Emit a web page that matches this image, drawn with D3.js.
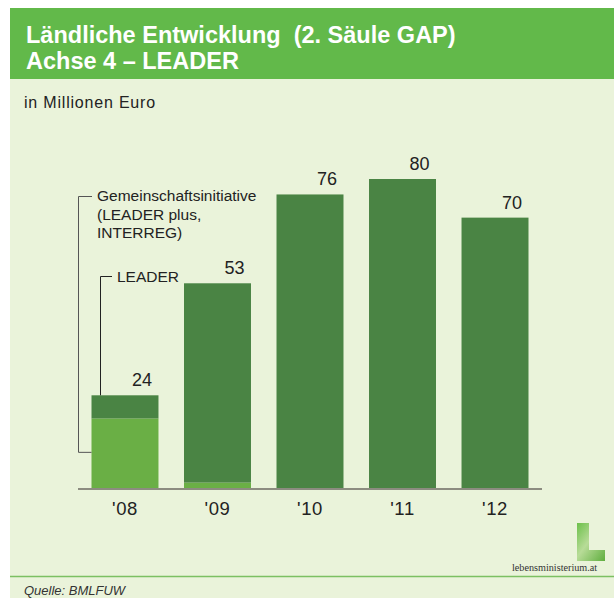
<!DOCTYPE html>
<html>
<head>
<meta charset="utf-8">
<script src="https://cdn.jsdelivr.net/npm/d3@7"></script>
<style>
  html, body { margin: 0; padding: 0; background: #ffffff; }
  svg { display: block; font-family: "Liberation Sans", Arial, sans-serif; }
  text { white-space: pre; }
</style>
</head>
<body>
<svg id="chart" width="614" height="598"></svg>
<script>
// Funding in million euro per year
const years = ["'08", "'09", "'10", "'11", "'12"];
const totals = [24, 53, 76, 80, 70];
// Community initiative (LEADER plus, INTERREG) share, bottom segment
const initiative = [18, 1.4, 0, 0, 0];
// LEADER share, top segment
const leader = [6, 51.6, 76, 80, 70];

const colors = {
  header: "#62b94a",
  panel: "#eaf3da",
  dark: "#4a8444",
  light: "#6aaf45",
  axis: "#8c8c80",
  text: "#222222",
  bracket: "#555555"
};

const svg = d3.select("#chart");

// Backgrounds
svg.append("rect").attr("x", 10).attr("y", 8).attr("width", 604).attr("height", 71).attr("fill", colors.header);
svg.append("rect").attr("x", 10).attr("y", 79).attr("width", 604).attr("height", 519).attr("fill", colors.panel);

// Title
const title = svg.append("text").attr("fill", "#ffffff").attr("font-weight", "bold").attr("font-size", 23.5);
title.append("tspan").attr("x", 26).attr("y", 43).text("Ländliche Entwicklung  (2. Säule GAP)");
title.append("tspan").attr("x", 26).attr("y", 69).text("Achse 4 – LEADER");

svg.append("text").attr("x", 24).attr("y", 108).attr("font-size", 16).attr("letter-spacing", 0.8)
  .attr("fill", colors.text).text("in Millionen Euro");

// Scales
const x = d3.scaleBand().domain(years).range([78, 542]).paddingInner(0.276).paddingOuter(0.146);
const y = d3.scaleLinear().domain([0, 80]).range([488, 179]);

const rows = years.map((yr, i) => ({ year: yr, initiative: initiative[i], leader: leader[i], total: totals[i] }));
const stack = d3.stack().keys(["initiative", "leader"])(rows);
const fills = { initiative: colors.light, leader: colors.dark };

svg.append("g").selectAll("g").data(stack).join("g")
  .attr("fill", d => fills[d.key])
  .selectAll("rect").data(d => d).join("rect")
  .attr("x", d => x(d.data.year))
  .attr("width", x.bandwidth())
  .attr("y", d => y(d[1]))
  .attr("height", d => y(d[0]) - y(d[1]));

// Value labels
svg.append("g").selectAll("text").data(rows).join("text")
  .attr("x", d => x(d.year) + x.bandwidth() / 2 + 17)
  .attr("y", d => y(d.total) - 9)
  .attr("text-anchor", "middle")
  .attr("font-size", 18)
  .attr("fill", colors.text)
  .text(d => d.total);

// Category axis along the baseline
const xAxis = d3.axisBottom(x).tickSize(0).tickPadding(10);
const ax = svg.append("g").attr("transform", "translate(0,488)").call(xAxis);
ax.select(".domain").remove();
ax.selectAll("text").attr("font-size", 18.5).attr("letter-spacing", 0.6).attr("fill", colors.text)
  .attr("font-family", "Liberation Sans, Arial, sans-serif").attr("dy", "0.9em");
svg.append("line").attr("x1", 78).attr("x2", 542).attr("y1", 489).attr("y2", 489)
  .attr("stroke", colors.axis).attr("stroke-width", 2);

// Legend brackets
const x08 = x(years[0]);
svg.append("path")
  .attr("d", `M${x08},${y(initiative[0] / 2 + 0.1) - 0.5}H78.5V196.5H92`)
  .attr("fill", "none").attr("stroke", colors.bracket).attr("stroke-width", 1);
const gi = svg.append("text").attr("font-size", 15.5).attr("fill", colors.text);
["Gemeinschaftsinitiative", "(LEADER plus,", "INTERREG)"].forEach((t, i) => {
  gi.append("tspan").attr("x", 97).attr("y", 201 + i * 18.5).text(t);
});

svg.append("path")
  .attr("d", `M100.5,${y(totals[0])}V276.5H112`)
  .attr("fill", "none").attr("stroke", "#222").attr("stroke-width", 1);
svg.append("text").attr("x", 117).attr("y", 282).attr("font-size", 15.5).attr("fill", colors.text).text("LEADER");

// Logo
const grad = svg.append("defs").append("linearGradient").attr("id", "logoGrad")
  .attr("x1", 0).attr("y1", 0).attr("x2", 1).attr("y2", 1);
grad.append("stop").attr("offset", 0).attr("stop-color", "#6cc04a");
grad.append("stop").attr("offset", 0.45).attr("stop-color", "#b8dc98");
grad.append("stop").attr("offset", 1).attr("stop-color", "#5fae3e");
svg.append("path").attr("d", "M577,523H589V550H605V561H577Z").attr("fill", "url(#logoGrad)");
svg.append("text").attr("x", 512).attr("y", 571).attr("font-size", 10.2)
  .attr("font-family", "Liberation Serif, Times New Roman, serif").attr("fill", "#333")
  .text("lebensministerium.at");

// Footer rule and source
svg.append("line").attr("x1", 10).attr("x2", 614).attr("y1", 576.5).attr("y2", 576.5)
  .attr("stroke", "#7cc062").attr("stroke-width", 1.5);
svg.append("text").attr("x", 24).attr("y", 595).attr("font-size", 13).attr("font-style", "italic")
  .attr("fill", "#333").text("Quelle: BMLFUW");
</script>
</body>
</html>
